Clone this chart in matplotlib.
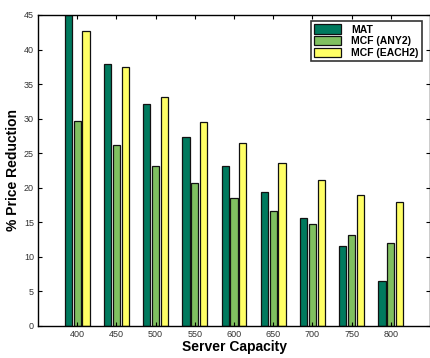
import numpy as np
import matplotlib.pyplot as plt

plt.rcParams['font.family'] = ['Liberation Sans', 'DejaVu Sans']

capacity = [400, 450, 500, 550, 600, 650, 700, 750, 800]
mat = [45.0, 37.9, 32.1, 27.3, 23.1, 19.4, 15.6, 11.5, 6.5]
mcf_any2 = [29.6, 26.1, 23.2, 20.7, 18.5, 16.6, 14.8, 13.1, 12.0]
mcf_each2 = [42.7, 37.4, 33.1, 29.5, 26.4, 23.6, 21.1, 19.0, 17.9]

series = [
    ('MAT', mat, '#007a5e'),
    ('MCF (ANY2)', mcf_any2, '#80c060'),
    ('MCF (EACH2)', mcf_each2, '#ffff66'),
]


def main():
    fig = plt.figure(figsize=(4.3, 3.58), dpi=100)
    ax = fig.add_axes([38 / 430, 32.3 / 358, 392 / 430, 310.7 / 358])

    pos = np.arange(1, len(capacity) + 1)
    step = 0.224
    width = 0.186
    for i, (name, vals, color) in enumerate(series):
        ax.bar(pos + (i - 1) * step, vals, width, color=color,
               edgecolor='#111111', linewidth=0.9, label=name)

    ax.set_xlim(0, 10)
    ax.set_ylim(0, 45)
    ax.set_xticks(pos)
    ax.set_xticklabels([str(c) for c in capacity])
    ax.set_yticks(range(0, 46, 5))
    ax.tick_params(direction='in', length=3, width=0.8, labelsize=6.5,
                   labelcolor='#333333', top=True, right=True, pad=3)
    for s in ax.spines.values():
        s.set_linewidth(1.0)

    ax.set_xlabel('Server Capacity', fontsize=10, fontweight='bold', labelpad=1)
    ax.set_ylabel('% Price Reduction', fontsize=10, fontweight='bold', labelpad=3)

    leg = ax.legend(loc='upper right', bbox_to_anchor=(0.979, 0.98),
                    prop={'weight': 'bold', 'size': 7.5},
                    frameon=True, fancybox=False, handlelength=2.6,
                    handleheight=1.0, borderpad=0.3, labelspacing=0.15,
                    handletextpad=1.0, borderaxespad=0)
    leg.get_frame().set_edgecolor('black')
    leg.get_frame().set_linewidth(1.2)

    fig.savefig('out.png', dpi=100)


if __name__ == '__main__':
    main()
